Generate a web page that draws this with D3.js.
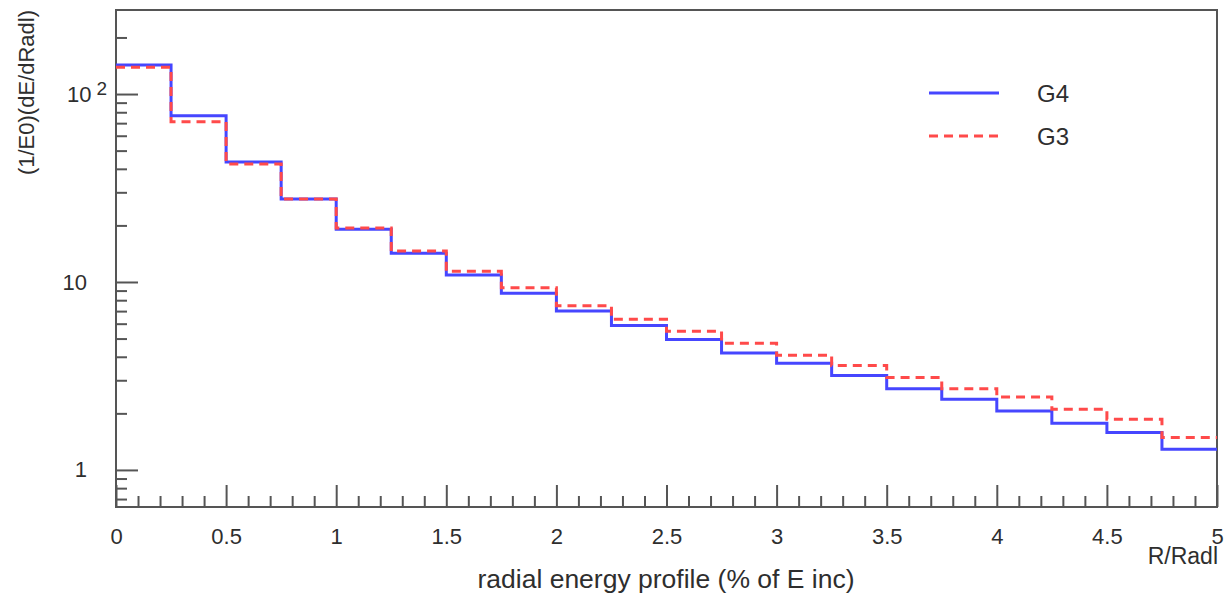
<!DOCTYPE html>
<html>
<head>
<meta charset="utf-8">
<script src="https://d3js.org/d3.v7.min.js"></script>
<style>
  html, body { margin: 0; padding: 0; background: #fff; }
  svg { display: block; }
  text { font-family: "Liberation Sans", Arial, Helvetica, sans-serif; fill: #2e2e2e; }
</style>
</head>
<body>
<svg id="chart" width="1230" height="598"></svg>
<script>
// ---- data ----
const binEdges = [0, 0.25, 0.5, 0.75, 1, 1.25, 1.5, 1.75, 2, 2.25, 2.5, 2.75, 3, 3.25, 3.5, 3.75, 4, 4.25, 4.5, 4.75, 5];
const g4Values = [142.6, 76.7, 43.5, 27.6, 19.1, 14.2, 10.9, 8.71, 7.01, 5.86, 4.95, 4.19, 3.69, 3.18, 2.70, 2.38, 2.06, 1.77, 1.58, 1.29];
const g3Values = [139, 71.3, 42.5, 27.6, 19.4, 14.6, 11.4, 9.33, 7.48, 6.33, 5.47, 4.72, 4.08, 3.60, 3.10, 2.70, 2.44, 2.10, 1.86, 1.49];
const seriesNames = ["G4", "G3"];
const xMajorTicks = [0, 0.5, 1, 1.5, 2, 2.5, 3, 3.5, 4, 4.5, 5];
const xMinorTicks = [0.1,0.2,0.3,0.4,0.6,0.7,0.8,0.9,1.1,1.2,1.3,1.4,1.6,1.7,1.8,1.9,2.1,2.2,2.3,2.4,2.6,2.7,2.8,2.9,3.1,3.2,3.3,3.4,3.6,3.7,3.8,3.9,4.1,4.2,4.3,4.4,4.6,4.7,4.8,4.9];
const yMajorTicks = [1, 10, 100];
const yMinorTicks = [0.7, 0.8, 0.9, 2, 3, 4, 5, 6, 7, 8, 9, 20, 30, 40, 50, 60, 70, 80, 90, 200];
const xTitle = "radial energy profile (% of E inc)";
const xUnitLabel = "R/Radl";
const yTitle = "(1/E0)(dE/dRadl)";

// ---- layout ----
const L = 116, R = 1217, T = 10, B = 507;
const axisColor = "#555";
const svg = d3.select("#chart");

const x = d3.scaleLinear().domain([0, 5]).range([L, R]);
const y = d3.scaleLog().domain([0.635, 280]).range([B, T]);

// frame
svg.append("rect").attr("x", L).attr("y", T).attr("width", R - L).attr("height", B - T)
  .attr("fill", "none").attr("stroke", axisColor).attr("stroke-width", 2);

// x axis
const fmtX = d => d3.format("~g")(d);
const gxMaj = svg.append("g").attr("transform", `translate(0,${B})`)
  .call(d3.axisBottom(x).tickValues(xMajorTicks).tickSize(-22).tickSizeOuter(0).tickPadding(21).tickFormat(fmtX));
const gxMin = svg.append("g").attr("transform", `translate(0,${B})`)
  .call(d3.axisBottom(x).tickValues(xMinorTicks).tickSize(-11).tickSizeOuter(0).tickFormat(""));

// y axis
const gyMaj = svg.append("g").attr("transform", `translate(${L},0)`)
  .call(d3.axisLeft(y).tickValues(yMajorTicks).tickSize(-22).tickSizeOuter(0).tickPadding(29).tickFormat(d => d === 100 ? "" : String(d)));
const gyMin = svg.append("g").attr("transform", `translate(${L},0)`)
  .call(d3.axisLeft(y).tickValues(yMinorTicks).tickSize(-11).tickSizeOuter(0).tickFormat(""));

[gxMaj, gxMin, gyMaj, gyMin].forEach(g => {
  g.select(".domain").remove();
  g.selectAll(".tick line").attr("stroke", axisColor).attr("stroke-width", 2);
  g.selectAll(".tick text").attr("fill", "#2e2e2e").attr("font-size", 22)
    .attr("font-family", "Liberation Sans, Arial, sans-serif");
});

// 10^2 label
gyMaj.selectAll(".tick").filter(d => d === 100).select("text")
  .attr("x", -9)
  .call(t => {
    t.append("tspan").text("10");
    t.append("tspan").text("2").attr("dx", 5).attr("dy", -7).attr("font-size", 19);
  });

// step histograms
function stepPath(vals) {
  const p = d3.path();
  p.moveTo(x(binEdges[0]), y(vals[0]));
  vals.forEach((v, i) => {
    if (i > 0) p.lineTo(x(binEdges[i]), y(v));
    p.lineTo(x(binEdges[i + 1]), y(v));
  });
  return p.toString();
}
const colors = { G4: "#4646ff", G3: "#ff4a4a" };
svg.append("path").attr("d", stepPath(g4Values)).attr("fill", "none")
  .attr("stroke", colors.G4).attr("stroke-width", 3);
svg.append("path").attr("d", stepPath(g3Values)).attr("fill", "none")
  .attr("stroke", colors.G3).attr("stroke-width", 3).attr("stroke-dasharray", "9,6");

// legend
const legend = svg.append("g");
const legY = [93, 136];
seriesNames.forEach((name, i) => {
  legend.append("line").attr("x1", 929).attr("x2", 999).attr("y1", legY[i]).attr("y2", legY[i])
    .attr("stroke", colors[name]).attr("stroke-width", 3)
    .attr("stroke-dasharray", name === "G3" ? "9,6" : null);
  legend.append("text").attr("x", 1037).attr("y", legY[i]).attr("dy", "0.36em")
    .attr("font-size", 24).text(name);
});

// titles
svg.append("text").attr("x", 666).attr("y", 588).attr("text-anchor", "middle")
  .attr("font-size", 26.5).text(xTitle);
svg.append("text").attr("x", 1218).attr("y", 564).attr("text-anchor", "end")
  .attr("font-size", 23).text(xUnitLabel);
svg.append("text").attr("transform", "translate(26,10) rotate(-90)").attr("text-anchor", "end")
  .attr("dy", "0.35em").attr("font-size", 22).text(yTitle);
</script>
</body>
</html>
